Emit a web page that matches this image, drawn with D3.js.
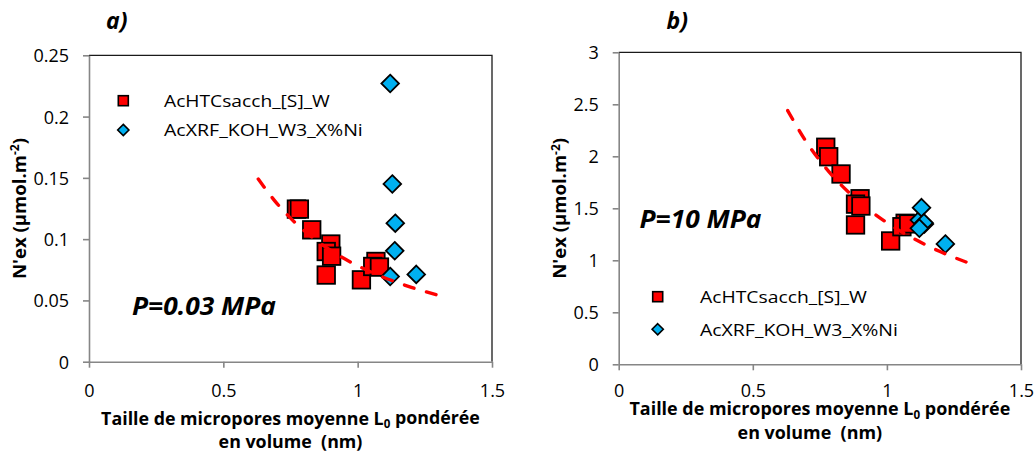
<!DOCTYPE html>
<html>
<head>
<meta charset="utf-8">
<script src="https://cdn.jsdelivr.net/npm/d3@7"></script>
<style>
  html, body { margin: 0; padding: 0; background: #fff; }
  svg { display: block; }
  text { font-family: "Open Sans", "Liberation Sans", sans-serif; }
</style>
</head>
<body>
<svg id="chart" width="1036" height="457"></svg>
<script>
// ---------------- data ----------------
const seriesNames = ["AcHTCsacch_[S]_W", "AcXRF_KOH_W3_X%Ni"];
const panelLabels = ["a)", "b)"];
const pressureLabels = ["P=0.03 MPa", "P=10 MPa"];

// L0 (nm) of the samples (shared by both panels)
const xRed  = [0.772, 0.783, 0.829, 0.900, 0.883, 0.903, 0.883, 1.014, 1.068, 1.056, 1.081];
const xBlue = [1.121, 1.129, 1.140, 1.138, 1.121, 1.218];

// N'ex at P = 0.03 MPa
const yRedA  = [0.1245, 0.1245, 0.1076, 0.0960, 0.0899, 0.0861, 0.0707, 0.0668, 0.0818, 0.0777, 0.0772];
const yBlueA = [0.0695, 0.145, 0.113, 0.0905, 0.227, 0.0712];

// N'ex at P = 10 MPa
const yRedB  = [2.087, 1.996, 1.830, 1.592, 1.540, 1.522, 1.340, 1.186, 1.356, 1.323, 1.350];
const yBlueB = [1.387, 1.506, 1.349, 1.360, 1.308, 1.157];

// dashed trend lines
const trendX = [0.63, 0.70, 0.80, 0.90, 1.00, 1.10, 1.20, 1.295];
const trendA = [0.149, 0.129, 0.107, 0.0907, 0.0783, 0.0685, 0.0607, 0.0545];
const trendB = [2.44, 2.137, 1.805, 1.556, 1.362, 1.208, 1.082, 0.984];

// axis ticks
const xTicks  = [0, 0.5, 1, 1.5];
const yTicksA = [0, 0.05, 0.1, 0.15, 0.2, 0.25];
const yTicksB = [0, 0.5, 1, 1.5, 2, 2.5, 3];

// ---------------- layout ----------------
const panels = [
  { left: 89, right: 492, top: 55.3, bottom: 361.7, yMax: 0.25, yTicks: yTicksA,
    yRed: yRedA, yBlue: yBlueA, trend: trendA,
    label: panelLabels[0], labelX: 106, labelY: 28.5,
    pLabel: pressureLabels[0], pX: 132, pY: 315, pW: 144,
    legX: 123.3, legY: [100.7, 130], legTextX: 164, legW: [166, 199],
    yTitleX: 25.5, xTitleY: [424.5, 447.5], xTitleW: 379, xTitle2Dx: 0 },
  { left: 618.7, right: 1021, top: 52.3, bottom: 364.3, yMax: 3, yTicks: yTicksB,
    yRed: yRedB, yBlue: yBlueB, trend: trendB,
    label: panelLabels[1], labelX: 666.5, labelY: 28.5,
    pLabel: pressureLabels[1], pX: 639.5, pY: 228, pW: 122,
    legX: 657.7, legY: [296.7, 329.3], legTextX: 700, legW: [167, 198],
    yTitleX: 566, xTitleY: [415, 438.5], xTitleW: 381, xTitle2Dx: -10 }
];

const RED = "#FF0000", BLUE = "#00B0F0", AXIS = "#868686";
const svg = d3.select("#chart");
svg.append("rect").attr("width", 1036).attr("height", 457).attr("fill", "#fff");

function fitWidth(sel, w) {
  const len = sel.node().getComputedTextLength();
  const fs = parseFloat(sel.attr("font-size"));
  sel.attr("font-size", (fs * w / len).toFixed(2));
}
// keep the font height, squeeze/stretch horizontally to the width seen in the reference
function scaleToWidth(sel, w, tx, ty, rot) {
  const len = sel.node().getComputedTextLength();
  const s = w / len;
  sel.attr("x", 0).attr("y", 0)
     .attr("transform", `translate(${tx},${ty})${rot ? ` rotate(${rot})` : ""} scale(${s.toFixed(4)},1)`);
  return s;
}

panels.forEach(p => {
  const g = svg.append("g");
  const x = d3.scaleLinear().domain([0, 1.5]).range([p.left, p.right]);
  const y = d3.scaleLinear().domain([0, p.yMax]).range([p.bottom, p.top]);

  // plot area border (top/right)
  g.append("path")
    .attr("d", `M${p.left},${p.top}H${p.right}V${p.bottom}`)
    .attr("fill", "none").attr("stroke", "#1a1a1a").attr("stroke-width", 1.3);

  // axes
  const yAxis = d3.axisLeft(y).tickValues(p.yTicks).tickFormat(d3.format("")).tickSize(6).tickSizeOuter(0).tickPadding(14);
  const xAxis = d3.axisBottom(x).tickValues(xTicks).tickFormat(d3.format("")).tickSize(6).tickSizeOuter(0);

  const ya = g.append("g").attr("transform", `translate(${p.left},0)`).call(yAxis);
  const xa = g.append("g").attr("transform", `translate(0,${p.bottom})`).call(xAxis);
  [ya, xa].forEach(a => {
    a.select(".domain").attr("stroke", AXIS).attr("stroke-width", 1.6);
    a.selectAll(".tick line").attr("stroke", AXIS).attr("stroke-width", 1.6);
    a.selectAll(".tick text").attr("font-family", "Open Sans").attr("font-size", 18).attr("fill", "#000");
  });
  ya.selectAll(".tick text").attr("dy", "0.36em");
  xa.selectAll(".tick text").attr("dy", null).attr("y", 397 - p.bottom);

  // markers: red squares
  const S = 17.5;
  g.append("g").selectAll("rect").data(xRed.map((d, i) => [d, p.yRed[i]])).join("rect")
    .attr("x", d => x(d[0]) - S / 2).attr("y", d => y(d[1]) - S / 2)
    .attr("width", S).attr("height", S)
    .attr("fill", RED).attr("stroke", "#000").attr("stroke-width", 1.8);

  // blue diamonds
  const D = 8.8;
  g.append("g").selectAll("path").data(xBlue.map((d, i) => [d, p.yBlue[i]])).join("path")
    .attr("d", d => `M${x(d[0])},${y(d[1]) - D}L${x(d[0]) + D},${y(d[1])}L${x(d[0])},${y(d[1]) + D}L${x(d[0]) - D},${y(d[1])}Z`)
    .attr("fill", BLUE).attr("stroke", "#000").attr("stroke-width", 1.8).attr("stroke-linejoin", "miter");

  // trend line
  const line = d3.line().x(d => x(d[0])).y(d => y(d[1])).curve(d3.curveMonotoneX);
  g.append("path").datum(trendX.map((d, i) => [d, p.trend[i]]))
    .attr("d", line).attr("fill", "none").attr("stroke", RED)
    .attr("stroke-width", 3.4).attr("stroke-dasharray", "10,13").attr("stroke-linecap", "round");

  // legend
  const lg = g.append("g");
  const ls = 10;
  lg.append("rect").attr("x", p.legX - ls / 2).attr("y", p.legY[0] - ls / 2).attr("width", ls).attr("height", ls)
    .attr("fill", RED).attr("stroke", "#000").attr("stroke-width", 1.6);
  const ld = 5.6;
  lg.append("path")
    .attr("d", `M${p.legX},${p.legY[1] - ld}L${p.legX + ld},${p.legY[1]}L${p.legX},${p.legY[1] + ld}L${p.legX - ld},${p.legY[1]}Z`)
    .attr("fill", BLUE).attr("stroke", "#000").attr("stroke-width", 1.6);
  seriesNames.forEach((name, i) => {
    const t = lg.append("text").attr("font-size", 17).attr("fill", "#000").text(name);
    scaleToWidth(t, p.legW[i], p.legTextX, p.legY[i] + 6.3);
  });

  // pressure label
  const pt = g.append("text")
    .attr("font-size", 24.5).attr("font-weight", "bold").attr("font-style", "italic").attr("fill", "#000")
    .text(p.pLabel);
  scaleToWidth(pt, p.pW, p.pX, p.pY);

  // panel label
  g.append("text").attr("x", p.labelX).attr("y", p.labelY)
    .attr("font-size", 23).attr("font-weight", "bold").attr("font-style", "italic").attr("fill", "#000")
    .text(p.label);

  // y title
  const yt = g.append("text")
    .attr("text-anchor", "middle").attr("font-size", 18).attr("font-weight", "bold").attr("fill", "#000");
  yt.append("tspan").text("N'ex (µmol.m");
  yt.append("tspan").attr("font-size", "65%").attr("dy", "-0.55em").text("-2");
  yt.append("tspan").attr("dy", "0.36em").text(")");
  scaleToWidth(yt, 141, p.yTitleX, (p.top + p.bottom) / 2, -90);

  // x title
  const cx = (p.left + p.right) / 2;
  const xt1 = g.append("text").attr("text-anchor", "middle")
    .attr("font-size", 18).attr("font-weight", "bold").attr("fill", "#000");
  xt1.append("tspan").text("Taille de micropores moyenne L");
  xt1.append("tspan").attr("font-size", "65%").attr("dy", "0.3em").text("0");
  xt1.append("tspan").attr("dy", "-0.2em").text(" pondérée");
  const s = scaleToWidth(xt1, p.xTitleW, cx, p.xTitleY[0]);
  g.append("text").attr("text-anchor", "middle")
    .attr("font-size", 18).attr("font-weight", "bold").attr("fill", "#000")
    .attr("xml:space", "preserve").style("white-space", "pre")
    .attr("transform", `translate(${cx + p.xTitle2Dx},${p.xTitleY[1]}) scale(${s.toFixed(4)},1)`)
    .text("en volume  (nm)");
});
</script>
</body>
</html>
